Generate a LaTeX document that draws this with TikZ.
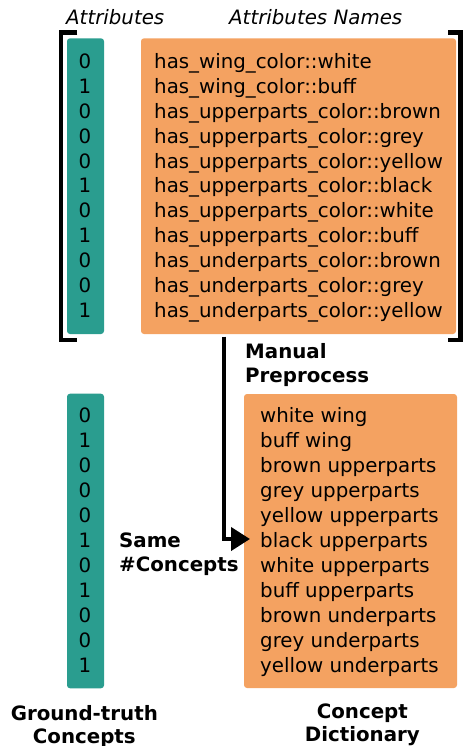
\documentclass[tikz,border=0pt]{standalone}
\usepackage{fontspec}
\setmainfont{DejaVu Sans}
\usetikzlibrary{arrows.meta}
\definecolor{tealbox}{HTML}{2A9D8F}
\definecolor{orangebox}{HTML}{F4A261}
\tikzset{
  txt/.style={inner sep=0pt, font=\fontsize{19.8}{24}\selectfont},
  boldtxt/.style={txt, font=\fontsize{19.8}{24}\selectfont\bfseries},
  itxt/.style={txt, font=\fontsize{19.8}{24}\selectfont\itshape},
  vecbox/.style={fill=tealbox, draw=none, rounded corners=3pt, inner sep=0pt},
  listbox/.style={fill=orangebox, draw=none, rounded corners=3pt, inner sep=0pt},
  bracket/.style={line width=4.5pt, line cap=butt, line join=miter},
  flow/.style={line width=4pt, line join=miter, -{Triangle[length=19pt,width=23pt]}},
}
\begin{document}
\begin{tikzpicture}[x=1pt, y=-1pt]
\useasboundingbox (0,0) rectangle (463,746);

% boxes
\node[vecbox, minimum width=37pt, minimum height=295.7pt] (attrvec) at (85.5,186.15) {};
\node[listbox, minimum width=315pt, minimum height=295.7pt] (names) at (298.5,186.15) {};
\node[vecbox, minimum width=37pt, minimum height=294.6pt] (gtvec) at (85.5,541) {};
\node[listbox, minimum width=213pt, minimum height=294pt] (dict) at (350.5,541) {};

% column headers
\node[itxt, anchor=base west] (hattr) at (66,25) {Attributes};
\node[itxt, anchor=base west] (hnames) at (229,25) {Attributes Names};

% brackets around the attribute block
\draw[bracket] (77.3,32.7) -- (61,32.7) -- (61,340) -- (77.3,340);
\draw[bracket] (448.3,32.7) -- (460.5,32.7) -- (460.5,340) -- (448.3,340);

% attribute vector and names
\foreach \v [count=\i] in {0,1,0,0,0,1,0,1,0,0,1}
  \node[txt, anchor=base] (av\i) at (85,{68.5+(\i-1)*24.88}) {\v};
\foreach \t [count=\i] in {
  has\_wing\_color::white, has\_wing\_color::buff,
  has\_upperparts\_color::brown, has\_upperparts\_color::grey,
  has\_upperparts\_color::yellow, has\_upperparts\_color::black,
  has\_upperparts\_color::white, has\_upperparts\_color::buff,
  has\_underparts\_color::brown, has\_underparts\_color::grey,
  has\_underparts\_color::yellow}
  \node[txt, anchor=base west] (an\i) at (154,{68.5+(\i-1)*24.88}) {\t};

% ground-truth concept vector and dictionary
\foreach \v [count=\i] in {0,1,0,0,0,1,0,1,0,0,1}
  \node[txt, anchor=base] (gv\i) at (85,{422.3+(\i-1)*25}) {\v};
\foreach \t [count=\i] in {
  white wing, buff wing, brown upperparts, grey upperparts,
  yellow upperparts, black upperparts, white upperparts,
  buff upperparts, brown underparts, grey underparts,
  yellow underparts}
  \node[txt, anchor=base west] (dc\i) at (260,{422.3+(\i-1)*25}) {\t};

% preprocessing arrow
\coordinate (armstart) at (224,336.7);
\coordinate (armend) at (250,539);
\draw[flow] (armstart) |- (armend);
\node[boldtxt, anchor=base west] (manual) at (245,358) {Manual};
\node[boldtxt, anchor=base west] (prep) at (245,382) {Preprocess};

\node[boldtxt, anchor=base west] (same) at (119,547) {Same};
\node[boldtxt, anchor=base west] (numc) at (119,571) {\#Concepts};

% captions
\node[boldtxt, anchor=base] (gt1) at (84.3,720) {Ground-truth};
\node[boldtxt, anchor=base] (gt2) at (84.3,743) {Concepts};
\node[boldtxt, anchor=base] (cd1) at (362.3,718.3) {Concept};
\node[boldtxt, anchor=base] (cd2) at (362.3,741) {Dictionary};
\end{tikzpicture}
\end{document}
